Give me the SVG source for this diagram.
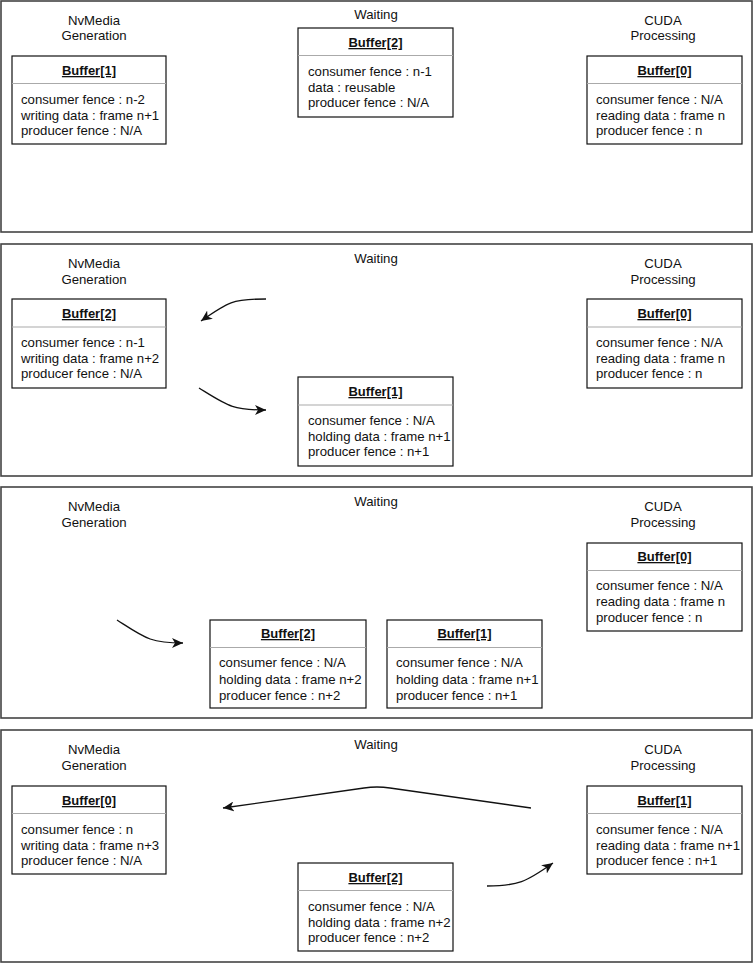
<svg xmlns="http://www.w3.org/2000/svg" width="753" height="964" viewBox="0 0 753 964">
<defs>
<style>
.panel{fill:#fff;stroke:#444;stroke-width:1.6}
.box{fill:#fff;stroke:#111;stroke-width:1.2}
.sep{stroke:#aaa;stroke-width:1.2}
.t{font-family:"Liberation Sans",Arial,sans-serif;font-size:13.2px;fill:#111}
.h{font-family:"Liberation Sans",Arial,sans-serif;font-size:13px;font-weight:bold;text-decoration:underline;fill:#111;text-anchor:middle}
.lbl{font-family:"Liberation Sans",Arial,sans-serif;font-size:13.2px;fill:#111;text-anchor:middle}
.edge{fill:none;stroke:#111;stroke-width:1.3}
</style>
<marker id="arr" markerUnits="userSpaceOnUse" markerWidth="12" markerHeight="10" refX="11" refY="5" orient="auto">
<path d="M0,0 L11,5 L0,10 L3,5 z" fill="#111"/>
</marker>
</defs>

<!-- panels -->
<g id="panels">
<rect class="panel" x="1" y="1" width="751" height="231"/>
<rect class="panel" x="1" y="244" width="751" height="232"/>
<rect class="panel" x="1" y="487" width="751" height="231"/>
<rect class="panel" x="1" y="730" width="751" height="232"/>
</g>

<!-- labels -->
<g id="labels">
<text class="lbl" x="94" y="25">NvMedia</text>
<text class="lbl" x="94" y="40">Generation</text>
<text class="lbl" x="376" y="19">Waiting</text>
<text class="lbl" x="663" y="25">CUDA</text>
<text class="lbl" x="663" y="40">Processing</text>

<text class="lbl" x="94" y="268">NvMedia</text>
<text class="lbl" x="94" y="284">Generation</text>
<text class="lbl" x="376" y="263">Waiting</text>
<text class="lbl" x="663" y="268">CUDA</text>
<text class="lbl" x="663" y="284">Processing</text>

<text class="lbl" x="94" y="511">NvMedia</text>
<text class="lbl" x="94" y="527">Generation</text>
<text class="lbl" x="376" y="506">Waiting</text>
<text class="lbl" x="663" y="511">CUDA</text>
<text class="lbl" x="663" y="527">Processing</text>

<text class="lbl" x="94" y="754">NvMedia</text>
<text class="lbl" x="94" y="770">Generation</text>
<text class="lbl" x="376" y="749">Waiting</text>
<text class="lbl" x="663" y="754">CUDA</text>
<text class="lbl" x="663" y="770">Processing</text>
</g>

<!-- Panel 1 -->
<g id="p1-buffer1">
<rect class="box" x="12" y="56" width="154" height="88"/>
<line class="sep" x1="12" y1="83.5" x2="166" y2="83.5"/>
<text class="h" x="89" y="75">Buffer[1]</text>
<text class="t" x="21" y="104">consumer fence : n-2</text>
<text class="t" x="21" y="120">writing data : frame n+1</text>
<text class="t" x="21" y="135">producer fence : N/A</text>
</g>
<g id="p1-buffer2">
<rect class="box" x="298" y="28" width="155" height="89"/>
<line class="sep" x1="298" y1="55.5" x2="453" y2="55.5"/>
<text class="h" x="375.500" y="47">Buffer[2]</text>
<text class="t" x="308" y="76">consumer fence : n-1</text>
<text class="t" x="308" y="92">data : reusable</text>
<text class="t" x="308" y="107">producer fence : N/A</text>
</g>
<g id="p1-buffer0">
<rect class="box" x="587" y="56" width="155" height="88"/>
<line class="sep" x1="587" y1="83.5" x2="742" y2="83.5"/>
<text class="h" x="664.500" y="75">Buffer[0]</text>
<text class="t" x="596" y="104">consumer fence : N/A</text>
<text class="t" x="596" y="120">reading data : frame n</text>
<text class="t" x="596" y="135">producer fence : n</text>
</g>

<!-- Panel 2 -->
<g id="p2-buffer2">
<rect class="box" x="12" y="299" width="154" height="89"/>
<line class="sep" x1="12" y1="327" x2="166" y2="327"/>
<text class="h" x="89" y="318">Buffer[2]</text>
<text class="t" x="21" y="347">consumer fence : n-1</text>
<text class="t" x="21" y="363">writing data : frame n+2</text>
<text class="t" x="21" y="378">producer fence : N/A</text>
</g>
<g id="p2-buffer1">
<rect class="box" x="298" y="377" width="155" height="89"/>
<line class="sep" x1="298" y1="405" x2="453" y2="405"/>
<text class="h" x="375.500" y="396">Buffer[1]</text>
<text class="t" x="308" y="425">consumer fence : N/A</text>
<text class="t" x="308" y="441">holding data : frame n+1</text>
<text class="t" x="308" y="456">producer fence : n+1</text>
</g>
<g id="p2-buffer0">
<rect class="box" x="587" y="299" width="155" height="89"/>
<line class="sep" x1="587" y1="327" x2="742" y2="327"/>
<text class="h" x="664.500" y="318">Buffer[0]</text>
<text class="t" x="596" y="347">consumer fence : N/A</text>
<text class="t" x="596" y="363">reading data : frame n</text>
<text class="t" x="596" y="378">producer fence : n</text>
</g>

<!-- Panel 3 -->
<g id="p3-buffer0">
<rect class="box" x="587" y="543" width="155" height="88"/>
<line class="sep" x1="587" y1="570.500" x2="742" y2="570.500"/>
<text class="h" x="664.500" y="561">Buffer[0]</text>
<text class="t" x="596" y="590">consumer fence : N/A</text>
<text class="t" x="596" y="606">reading data : frame n</text>
<text class="t" x="596" y="622">producer fence : n</text>
</g>
<g id="p3-buffer2">
<rect class="box" x="210" y="620" width="156" height="88"/>
<line class="sep" x1="210" y1="647.500" x2="366" y2="647.500"/>
<text class="h" x="288" y="638">Buffer[2]</text>
<text class="t" x="219" y="667">consumer fence : N/A</text>
<text class="t" x="219" y="684">holding data : frame n+2</text>
<text class="t" x="219" y="700">producer fence : n+2</text>
</g>
<g id="p3-buffer1">
<rect class="box" x="387" y="620" width="155" height="88"/>
<line class="sep" x1="387" y1="647.500" x2="542" y2="647.500"/>
<text class="h" x="464.500" y="638">Buffer[1]</text>
<text class="t" x="396" y="667">consumer fence : N/A</text>
<text class="t" x="396" y="684">holding data : frame n+1</text>
<text class="t" x="396" y="700">producer fence : n+1</text>
</g>

<!-- Panel 4 -->
<g id="p4-buffer0">
<rect class="box" x="12" y="786" width="154" height="88"/>
<line class="sep" x1="12" y1="813.500" x2="166" y2="813.500"/>
<text class="h" x="89" y="805">Buffer[0]</text>
<text class="t" x="21" y="834">consumer fence : n</text>
<text class="t" x="21" y="850">writing data : frame n+3</text>
<text class="t" x="21" y="865">producer fence : N/A</text>
</g>
<g id="p4-buffer1">
<rect class="box" x="587" y="786" width="155" height="88"/>
<line class="sep" x1="587" y1="813.500" x2="742" y2="813.500"/>
<text class="h" x="664.500" y="805">Buffer[1]</text>
<text class="t" x="596" y="834">consumer fence : N/A</text>
<text class="t" x="596" y="850">reading data : frame n+1</text>
<text class="t" x="596" y="865">producer fence : n+1</text>
</g>
<g id="p4-buffer2">
<rect class="box" x="298" y="863" width="155" height="88"/>
<line class="sep" x1="298" y1="890.500" x2="453" y2="890.500"/>
<text class="h" x="375.500" y="882">Buffer[2]</text>
<text class="t" x="308" y="911">consumer fence : N/A</text>
<text class="t" x="308" y="927">holding data : frame n+2</text>
<text class="t" x="308" y="942">producer fence : n+2</text>
</g>

<!-- connectors -->
<g id="connectors">
<path class="edge" marker-end="url(#arr)" d="M266,299 C232,299 228,302 201,321"/>
<path class="edge" marker-end="url(#arr)" d="M199,388 C228,406 232,410 266,410"/>
<path class="edge" marker-end="url(#arr)" d="M117,620 C145,638 150,643 183,643"/>
<path class="edge" marker-end="url(#arr)" d="M531,808 L390,788 Q377,786 364,788 L223,808"/>
<path class="edge" marker-end="url(#arr)" d="M487,886 C518,886 526,882 553,863"/>
</g>
</svg>
